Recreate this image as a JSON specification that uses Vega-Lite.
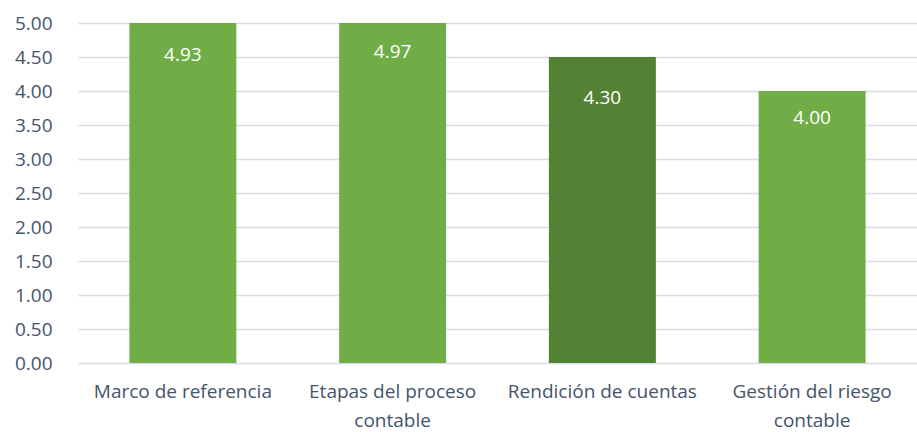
{
  "$schema": "https://vega.github.io/schema/vega-lite/v6.json",
  "width": 917,
  "height": 432,
  "autosize": {"type": "fit", "contains": "padding"},
  "padding": {"left": 14, "top": 14, "right": 0, "bottom": 2},
  "background": "white",
  "config": {
    "view": {"stroke": null},
    "font": "Open Sans",
    "axis": {"labelFont": "Open Sans", "labelColor": "#44546A", "labelFontSize": 19},
    "axisY": {
      "title": null,
      "values": [0, 0.5, 1, 1.5, 2, 2.5, 3, 3.5, 4, 4.5, 5],
      "format": ".2f",
      "domain": false,
      "ticks": false,
      "labelOverlap": false,
      "labelPadding": 26,
      "gridColor": "#D9DCE6",
      "gridWidth": 1.5
    }
  },
  "data": {
    "values": [
      {"categoria": "Marco de referencia", "valor": 5.0, "puntaje": 4.93, "etiqueta": "4.93", "tono": "claro"},
      {"categoria": "Etapas del proceso contable", "valor": 5.0, "puntaje": 4.97, "etiqueta": "4.97", "tono": "claro"},
      {"categoria": "Rendición de cuentas", "valor": 4.5, "puntaje": 4.30, "etiqueta": "4.30", "tono": "oscuro"},
      {"categoria": "Gestión del riesgo contable", "valor": 4.0, "puntaje": 4.00, "etiqueta": "4.00", "tono": "claro"}
    ]
  },
  "encoding": {
    "x": {
      "field": "categoria",
      "type": "nominal",
      "sort": null,
      "scale": {"paddingInner": 0.49, "paddingOuter": 0.245},
      "axis": {
        "title": null,
        "labelAngle": 0,
        "domain": false,
        "ticks": false,
        "labelPadding": 19,
        "labelLineHeight": 29,
        "labelOverlap": false,
        "labelLimit": 0,
        "labelExpr": "datum.label == 'Etapas del proceso contable' ? ['Etapas del proceso', 'contable'] : datum.label == 'Gestión del riesgo contable' ? ['Gestión del riesgo', 'contable'] : datum.label"
      }
    }
  },
  "layer": [
    {
      "mark": {"type": "bar"},
      "encoding": {
        "y": {
          "field": "valor",
          "type": "quantitative",
          "title": null,
          "scale": {"domain": [0, 5]}
        },
        "color": {
          "field": "tono",
          "type": "nominal",
          "scale": {"domain": ["claro", "oscuro"], "range": ["#70AD47", "#548235"]},
          "legend": null
        }
      }
    },
    {
      "mark": {"type": "text", "color": "white", "fontSize": 19, "baseline": "middle", "dy": 27},
      "encoding": {
        "y": {"field": "puntaje", "type": "quantitative", "title": null},
        "text": {"field": "etiqueta"}
      }
    }
  ]
}
